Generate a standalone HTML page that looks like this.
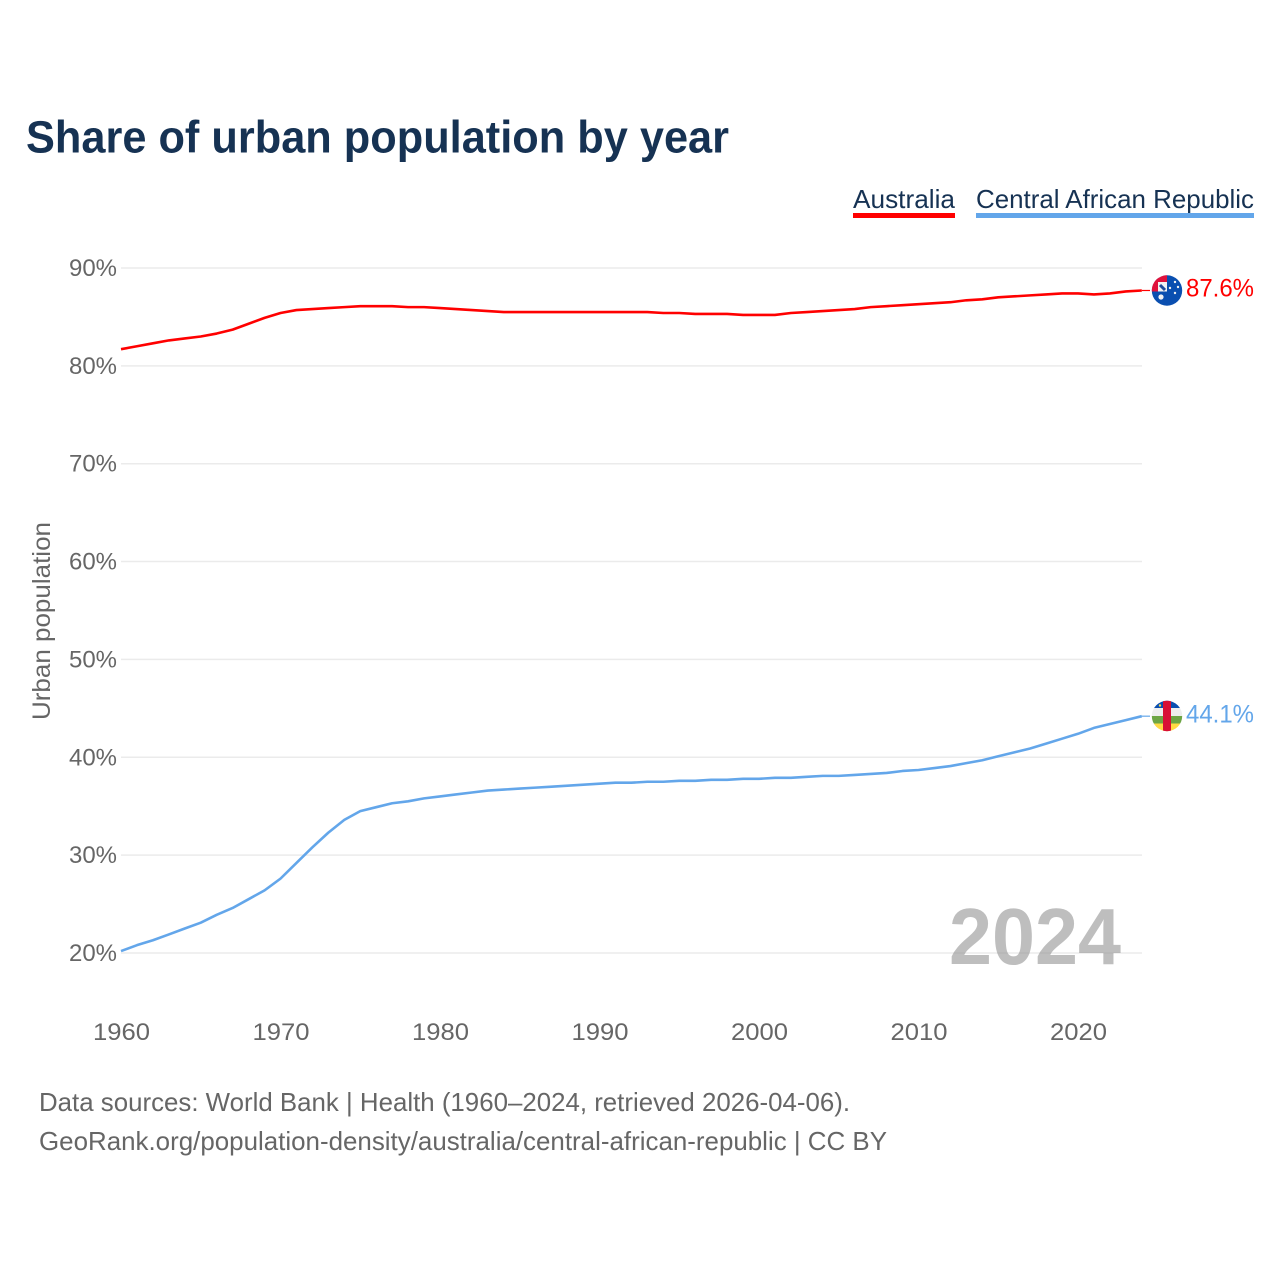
<!DOCTYPE html>
<html lang="en">
<head>
<meta charset="utf-8">
<title>Share of urban population by year</title>
<style>
html,body{margin:0;padding:0;background:#fff;}
svg{display:block;font-family:"Liberation Sans",sans-serif;}
</style>
</head>
<body>
<svg id="chart" xmlns="http://www.w3.org/2000/svg" width="1280" height="1280" viewBox="0 0 1280 1280">
  <defs>
    <clipPath id="au-clip"><circle cx="1167" cy="290.5" r="15.2"/></clipPath>
    <clipPath id="car-clip"><circle cx="1167" cy="716" r="15.2"/></clipPath>
  </defs>
  <rect width="1280" height="1280" fill="#fff"/>
  <text x="26" y="152.5" font-size="45" font-weight="700" fill="#163253" textLength="703" lengthAdjust="spacingAndGlyphs">Share of urban population by year</text>

  <g>
    <text x="853" y="208" font-size="26" fill="#163253" textLength="102" lengthAdjust="spacingAndGlyphs">Australia</text>
    <rect x="853" y="213" width="102" height="5" fill="#ff0000"/>
  </g>
  <g>
    <text x="976" y="208" font-size="26" fill="#163253" textLength="278" lengthAdjust="spacingAndGlyphs">Central African Republic</text>
    <rect x="976" y="213" width="278" height="5" fill="#63a6ea"/>
  </g>

  <g id="grid"></g>
  <g id="y-ticks"></g>
  <g id="x-ticks"></g>

  <text transform="translate(50,621) rotate(-90)" text-anchor="middle" font-size="25" fill="#666" textLength="198" lengthAdjust="spacingAndGlyphs">Urban population</text>

  <text x="949" y="964" font-size="80" font-weight="700" fill="#888" fill-opacity="0.55" textLength="172" lengthAdjust="spacingAndGlyphs">2024</text>

  <g id="series"></g>

  <g clip-path="url(#au-clip)">
    <rect x="1151" y="275" width="32" height="32" fill="#0a4fb0"/>
    <rect x="1151" y="275" width="16" height="16.5" fill="#f2f2f2"/>
    <rect x="1151" y="275" width="16" height="7" fill="#e0123c"/>
    <rect x="1151" y="275" width="7" height="16.5" fill="#e0123c"/>
    <path d="M1160 285 L1165 290" stroke="#1f4b9c" stroke-width="3" fill="none"/>
    <circle cx="1161" cy="297" r="2.6" fill="#f2f2f2"/>
    <circle cx="1175" cy="282" r="1.2" fill="#f2f2f2"/>
    <circle cx="1170" cy="288" r="1.2" fill="#f2f2f2"/>
    <circle cx="1178" cy="287" r="1.2" fill="#f2f2f2"/>
    <circle cx="1175" cy="293" r="1.2" fill="#f2f2f2"/>
  </g>
  <g clip-path="url(#car-clip)">
    <rect x="1151" y="700" width="32" height="8" fill="#0a4fb0"/>
    <rect x="1151" y="708" width="32" height="8" fill="#eeeeee"/>
    <rect x="1151" y="716" width="32" height="7.5" fill="#6da544"/>
    <rect x="1151" y="723.5" width="32" height="8" fill="#ffda44"/>
    <rect x="1163" y="700" width="8" height="32" fill="#d80f35"/>
    <circle cx="1160" cy="705.5" r="1.2" fill="#ffda44"/>
  </g>

  <text x="1186" y="296.5" font-size="25" fill="#ff0000" textLength="68" lengthAdjust="spacingAndGlyphs">87.6%</text>
  <text x="1186" y="722.5" font-size="25" fill="#63a6ea" textLength="68" lengthAdjust="spacingAndGlyphs">44.1%</text>

  <text x="39" y="1111" font-size="26" fill="#666" textLength="811" lengthAdjust="spacingAndGlyphs">Data sources: World Bank | Health (1960–2024, retrieved 2026-04-06).</text>
  <a>
    <text x="39" y="1150" font-size="26" fill="#666" textLength="848" lengthAdjust="spacingAndGlyphs">GeoRank.org/population-density/australia/central-african-republic | CC BY</text>
  </a>
</svg>

<script>
const years = [1960,1961,1962,1963,1964,1965,1966,1967,1968,1969,1970,1971,1972,1973,1974,1975,1976,1977,1978,1979,1980,1981,1982,1983,1984,1985,1986,1987,1988,1989,1990,1991,1992,1993,1994,1995,1996,1997,1998,1999,2000,2001,2002,2003,2004,2005,2006,2007,2008,2009,2010,2011,2012,2013,2014,2015,2016,2017,2018,2019,2020,2021,2022,2023,2024];
const australia = [81.7,82.0,82.3,82.6,82.8,83.0,83.3,83.7,84.3,84.9,85.4,85.7,85.8,85.9,86.0,86.1,86.1,86.1,86.0,86.0,85.9,85.8,85.7,85.6,85.5,85.5,85.5,85.5,85.5,85.5,85.5,85.5,85.5,85.5,85.4,85.4,85.3,85.3,85.3,85.2,85.2,85.2,85.4,85.5,85.6,85.7,85.8,86.0,86.1,86.2,86.3,86.4,86.5,86.7,86.8,87.0,87.1,87.2,87.3,87.4,87.4,87.3,87.4,87.6,87.7];
const centralAfricanRepublic = [20.2,20.8,21.3,21.9,22.5,23.1,23.9,24.6,25.5,26.4,27.6,29.2,30.8,32.3,33.6,34.5,34.9,35.3,35.5,35.8,36.0,36.2,36.4,36.6,36.7,36.8,36.9,37.0,37.1,37.2,37.3,37.4,37.4,37.5,37.5,37.6,37.6,37.7,37.7,37.8,37.8,37.9,37.9,38.0,38.1,38.1,38.2,38.3,38.4,38.6,38.7,38.9,39.1,39.4,39.7,40.1,40.5,40.9,41.4,41.9,42.4,43.0,43.4,43.8,44.2];
const yTickValues = [20,30,40,50,60,70,80,90];
const xTickValues = [1960,1970,1980,1990,2000,2010,2020];

const NS = 'http://www.w3.org/2000/svg';
const xScale = function (year) { return 121 + (year - 1960) * 15.95; };
const yScale = function (v) { return 953 - (v - 20) * 9.786; };

const gridGroup = document.getElementById('grid');
const yGroup = document.getElementById('y-ticks');
const xGroup = document.getElementById('x-ticks');
const seriesGroup = document.getElementById('series');

yTickValues.forEach(function (v) {
  const line = document.createElementNS(NS, 'line');
  
  
  line.setAttribute('x1', 121);
  line.setAttribute('x2', 1142);
  line.setAttribute('y1', yScale(v));
  line.setAttribute('y2', yScale(v));
  line.setAttribute('stroke', '#ebebeb');
  line.setAttribute('stroke-width', '1.5');
  gridGroup.appendChild(line);

  const label = document.createElementNS(NS, 'text');
  
  
  label.setAttribute('x', 117);
  label.setAttribute('y', yScale(v) + 8);
  label.setAttribute('text-anchor', 'end');
  label.setAttribute('font-size', '24');
  label.setAttribute('fill', '#666');
  label.setAttribute('textLength', '48');
  label.setAttribute('lengthAdjust', 'spacingAndGlyphs');
  label.textContent = v + '%';
  yGroup.appendChild(label);
});

xTickValues.forEach(function (year) {
  const label = document.createElementNS(NS, 'text');
  
  
  label.setAttribute('x', xScale(year) + 0.5);
  label.setAttribute('y', 1040);
  label.setAttribute('text-anchor', 'middle');
  label.setAttribute('font-size', '24');
  label.setAttribute('fill', '#666');
  label.setAttribute('textLength', '57');
  label.setAttribute('lengthAdjust', 'spacingAndGlyphs');
  label.textContent = year;
  xGroup.appendChild(label);
});

function drawSeries(values, color, name) {
  const pts = values.map(function (v, i) {
    return xScale(years[i]).toFixed(2) + ',' + yScale(v).toFixed(2);
  });
  const path = document.createElementNS(NS, 'polyline');
  
  
  path.setAttribute('points', pts.join(' '));
  path.setAttribute('fill', 'none');
  path.setAttribute('stroke', color);
  path.setAttribute('stroke-width', '2.6');
  path.setAttribute('stroke-linejoin', 'round');
  seriesGroup.appendChild(path);

  const lastY = yScale(values[values.length - 1]);
  const lead = document.createElementNS(NS, 'line');
  
  
  lead.setAttribute('x1', xScale(years[years.length - 1]));
  lead.setAttribute('x2', 1150);
  lead.setAttribute('y1', lastY);
  lead.setAttribute('y2', lastY);
  lead.setAttribute('stroke', color);
  lead.setAttribute('stroke-width', '1.2');
  seriesGroup.appendChild(lead);
}
drawSeries(australia, '#ff0000', 'line-australia');
drawSeries(centralAfricanRepublic, '#63a6ea', 'line-central-african-republic');
</script>
</body>
</html>
